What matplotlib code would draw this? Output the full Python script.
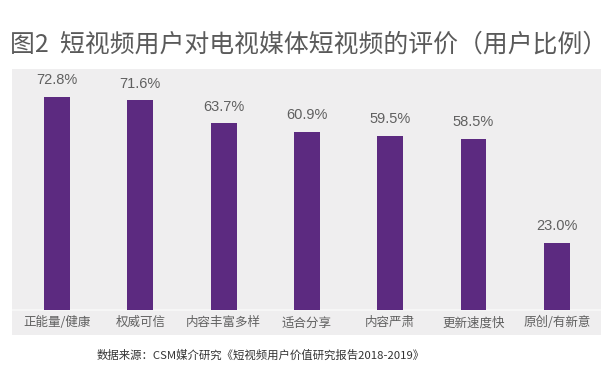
import matplotlib.pyplot as plt

plt.rcParams['font.family'] = ['Noto Sans CJK SC', 'DejaVu Sans']

# 数据
categories = ['正能量/健康', '权威可信', '内容丰富多样', '适合分享', '内容严肃', '更新速度快', '原创/有新意']
values = [72.8, 71.6, 63.7, 60.9, 59.5, 58.5, 23.0]
title = '图2  短视频用户对电视媒体短视频的评价（用户比例）'
source = '数据来源：CSM媒介研究《短视频用户价值研究报告2018-2019》'

W, H = 616, 390
fig = plt.figure(figsize=(W / 100, H / 100), dpi=100)
fig.patch.set_facecolor('white')

# 灰色面板 (像素: x 12-601, y 69-335)
ax = fig.add_axes([12 / W, 1 - 335 / H, 589 / W, 266 / H])
ax.set_facecolor('#efeeef')
for s in ax.spines.values():
    s.set_visible(False)

x = list(range(len(categories)))
ax.bar(x, values, width=0.31, color='#5c2a80', zorder=2)
ax.axhline(0, color='#f8f8f8', lw=1.2, zorder=1)

ax.set_xlim(-0.54, 6.53)
ax.set_ylim(-8.53, 82.25)
ax.set_xticks([])
ax.set_yticks([])

for xi, v in zip(x, values):
    ax.text(xi, v + 3.2, f'{v:.1f}%', ha='center', va='bottom',
            fontsize=10.5, color='#606060', family='Liberation Sans')

for xi, c in zip(x, categories):
    ax.text(xi, -4.4, c, ha='center', va='center', fontsize=9, color='#606060')

fig.text(10 / W, 1 - 45 / H, title, ha='left', va='center', fontsize=17.9,
         color='#5a5a5a', weight='light')
fig.text(261 / W, 1 - 355 / H, source, ha='center', va='center', fontsize=8.2, color='#333333')

fig.savefig('out.png', dpi=100)
